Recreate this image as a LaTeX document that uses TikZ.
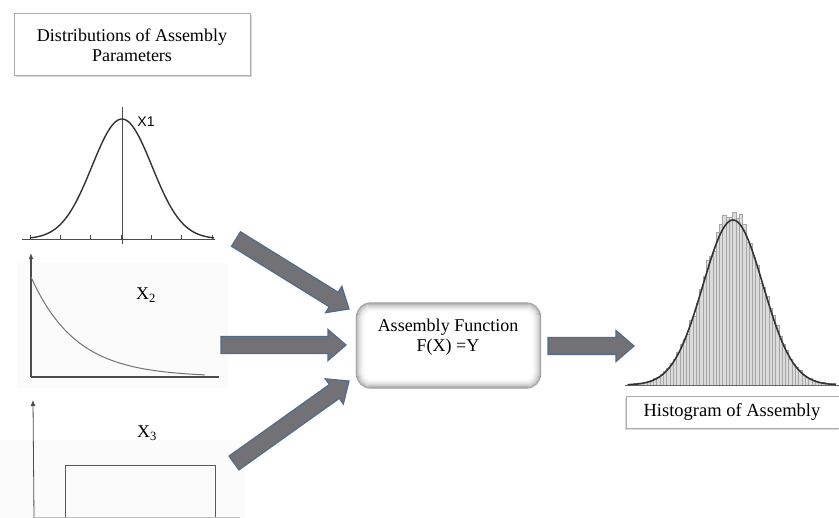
\documentclass[tikz,border=0pt]{standalone}
\usepackage{fontspec}
\setmainfont{Liberation Serif}
\newfontfamily\xsans{Liberation Sans}
\usetikzlibrary{calc,shadows,arrows.meta}
\definecolor{arrfill}{RGB}{114,114,118}
\definecolor{arrline}{RGB}{80,108,138}
\tikzset{
  lbl/.style={font=\fontsize{18}{20}\selectfont, inner sep=0pt, align=center},
  titlebox/.style={draw=gray!65, line width=1pt, fill=white, minimum width=236pt, minimum height=62pt, inner sep=0pt,
    drop shadow={opacity=0.3, shadow xshift=1.5pt, shadow yshift=-1.5pt}},
  histbox/.style={draw=gray!65, line width=1pt, fill=white, minimum width=213pt, minimum height=32pt, inner sep=0pt,
    drop shadow={opacity=0.3, shadow xshift=-1.5pt, shadow yshift=-1.5pt}},
  fnbox/.style={draw=gray!75, line width=1.2pt, fill=white, rounded corners=14pt, minimum width=184pt, minimum height=85pt, inner sep=0pt},
  fatarrowstyle/.style={fill=arrfill, draw=arrline, line width=1.2pt, line join=miter},
  curve/.style={line width=1.4pt, black!80},
  axisline/.style={line width=1pt, black!70},
  histbar/.style={fill=gray!28, draw=gray!70, line width=0.5pt},
  panel/.style={fill=black!1.5, draw=none},
}
\newcommand\fatarrow[2]{%
  \coordinate (#1-n) at ($(#2)!18pt!(#1)$);
  \filldraw[fatarrowstyle] ($(#1)!8.5pt!90:(#2)$) -- ($(#1-n)!8.5pt!90:(#2)$) -- ($(#1-n)!15.5pt!90:(#2)$) -- (#2)
    -- ($(#1-n)!15.5pt!-90:(#2)$) -- ($(#1-n)!8.5pt!-90:(#2)$) -- ($(#1)!8.5pt!-90:(#2)$) -- cycle;}
\begin{document}
\begin{tikzpicture}[x=1pt,y=-1pt]
\useasboundingbox (0,0) rectangle (839,518);
\fill[white] (0,0) rectangle (839,518);
% panels
\fill[panel] (17,263) rectangle (228,388);
\fill[panel] (0,440) rectangle (245,518);
% title
\node[titlebox] (title) at (132,45) {};
\node[lbl] (titletext) at (132,45) {Distributions of Assembly\\Parameters};
% X1 normal distribution
\draw[axisline, line width=0.8pt] (22,239) -- (215,239);
\draw[axisline, line width=0.8pt] (122,107) -- (122,244);
\foreach \k in {0,...,6} \draw[axisline, line width=0.6pt] (30+30.33*\k,235) -- (30+30.33*\k,240);
\draw[curve] plot[domain=30:214, samples=90, smooth] (\x, {239-120*exp(-0.5*pow((\x-122)/30,2))});
\node[font=\xsans\fontsize{14}{16}\selectfont, inner sep=0pt] (x1) at (146,122) {X1};
% X2 exponential distribution
\draw[axisline, line width=1.2pt, -{Latex[length=6pt,width=5pt]}] (31,377) -- (31,253);
\draw[axisline, line width=1.2pt] (31,377) -- (219,377);
\draw[line width=1pt, black!55] plot[domain=31:205, samples=80, smooth] (\x, {377-100*exp(-(\x-31)/45)});
\node[lbl] (x2) at (146,295) {X\textsubscript{2}};
% X3 uniform distribution
\draw[axisline, line width=0.8pt, -{Latex[length=6pt,width=5pt]}] (34,518) -- (33,400);
\draw[line width=0.9pt, black!65] (65,518) -- (65,465) -- (215,465) -- (215,518);
\draw[line width=0.6pt, black!25] (33,517.5) -- (240,517.5);
\node[lbl] (x3) at (147,433) {X\textsubscript{3}};
% function box
\node[fnbox] (fn) at (448.5,345.5) {};
\foreach \i/\c in {1/34,2/27,3/21,4/16,5/12,6/8,7/5,8/3,9/1}
  \draw[black!\c, line width=1pt, rounded corners={14-0.9*\i}] ($(fn.north west)+(\i,\i)$) rectangle ($(fn.south east)+(-\i,-\i)$);
\node[lbl] (fntext) at (448,337) {Assembly Function\\F(X) =Y};
% histogram
\pgfmathsetseed{11}
\foreach \k in {0,...,62} {
  \pgfmathsetmacro\bx{627+3.3*\k}
  \pgfmathsetmacro\bh{165*exp(-0.5*pow((\bx+1.65-733)/30,2))*(1+0.08*rand)+0.8*rnd}
  \filldraw[histbar] (\bx,385) rectangle (\bx+3.3,385-\bh);
}
\draw[line width=0.8pt, black!60] (625,385) -- (839,385);
\draw[curve, line width=1.6pt] plot[domain=628:836, samples=120, smooth] (\x, {385-165*exp(-0.5*pow((\x-733)/30,2))});
\node[histbox] (hist) at (732.5,413) {};
\node[lbl, font=\fontsize{18.5}{20}\selectfont] (histtext) at (732,412) {Histogram of Assembly};
% arrow end points
\coordinate (a1s) at (236,239); \coordinate (a1e) at (349,309);
\coordinate (a2s) at (221,345); \coordinate (a2e) at (346,345);
\coordinate (a3s) at (234,463); \coordinate (a3e) at (349,381);
\coordinate (a4s) at (548,346); \coordinate (a4e) at (634,346);
\fatarrow{a1s}{a1e}
\fatarrow{a2s}{a2e}
\fatarrow{a3s}{a3e}
\fatarrow{a4s}{a4e}
\end{tikzpicture}
\end{document}
